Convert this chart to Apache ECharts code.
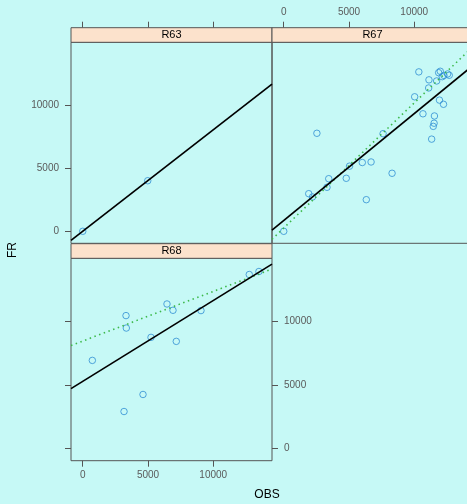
<!DOCTYPE html>
<html>
<head>
<meta charset="utf-8">
<script src="https://cdn.jsdelivr.net/npm/echarts@6/dist/echarts.min.js"></script>
<style>
html,body{margin:0;padding:0;background:#C6F9F6;}
#chart{width:467px;height:504px;}
</style>
</head>
<body>
<div id="chart"></div>
<script>
// ---- data ----
const panels = ['R63', 'R67', 'R68'];
const tickValues = [0, 5000, 10000];
const xRange = [-900, 14500];
const yRange = [-950, 14950];

const r63X = [0, 4980];
const r63Y = [0, 4000];

const r67X = [0, 1914, 2200, 2540, 3446, 3315, 4790, 5040, 6018, 6690, 6325, 7610, 8300,
  10031, 10350, 10666, 11103, 11126, 11332, 11455, 11520, 11545, 11715, 11868, 11991,
  11930, 12240, 12144, 12274, 12557, 12680];
const r67Y = [0, 2975, 2714, 7753, 4161, 3481, 4193, 5150, 5440, 5483, 2500, 7722, 4589,
  10640, 12610, 9295, 11337, 11980, 7290, 8300, 8550, 9122, 11891, 12548, 12658,
  10376, 10047, 12231, 12330, 12445, 12342];

const r68X = [735, 3315, 3338, 5230, 6455, 6914, 7167, 9058, 12757, 13499, 4617, 3162];
const r68Y = [6929, 10449, 9472, 8740, 11362, 10866, 8425, 10843, 13677, 13913, 4252, 2913];

// dotted (robust-looking) fit lines: [intercept, slope]
const r67Dotted = [260, 0.99];
const r68Dotted = [8450, 0.39];

// ---- helpers ----
function lm(xs, ys) {
  const n = xs.length;
  const mx = xs.reduce((a, b) => a + b, 0) / n;
  const my = ys.reduce((a, b) => a + b, 0) / n;
  let sxy = 0, sxx = 0;
  for (let i = 0; i < n; i++) { sxy += (xs[i] - mx) * (ys[i] - my); sxx += (xs[i] - mx) ** 2; }
  const b = sxy / sxx;
  return [my - b * mx, b];
}
function lineData(coef) {
  return [[xRange[0], coef[0] + coef[1] * xRange[0]], [xRange[1], coef[0] + coef[1] * xRange[1]]];
}
function pts(xs, ys) { return xs.map((x, i) => [x, ys[i]]); }

const axisCol = '#555555';
const labCol = '#5a5a5a';
const font = 'Liberation Sans, Arial, sans-serif';

const grids = [
  {left: 71, top: 42.3, width: 201, height: 201},
  {left: 272, top: 42.3, width: 201, height: 201},
  {left: 71, top: 258.3, width: 201, height: 202.4}
].map(g => Object.assign(g, {show: true, borderColor: axisCol, borderWidth: 1, backgroundColor: 'transparent', containLabel: false, outerBoundsMode: 'none'}));

function baseAxis(extra) {
  return Object.assign({
    type: 'value',
    splitLine: {show: false},
    axisLine: {show: false, onZero: false},
    axisTick: {show: true, inside: false, length: 6, lineStyle: {color: axisCol}, customValues: tickValues},
    axisLabel: {show: true, color: labCol, fontSize: 10, fontFamily: font, customValues: tickValues, margin: 12, formatter: v => String(v)}
  }, extra);
}

const xAxes = [
  baseAxis({gridIndex: 0, position: 'top', offset: 14.6, min: xRange[0], max: xRange[1]}),
  baseAxis({gridIndex: 1, position: 'top', offset: 14.6, min: xRange[0], max: xRange[1]}),
  baseAxis({gridIndex: 2, position: 'bottom', min: xRange[0], max: xRange[1]})
];
xAxes[0].axisLabel.show = false;
xAxes[1].axisLabel.margin = 10;
xAxes[2].axisLabel.margin = 10;

const yAxes = [
  baseAxis({gridIndex: 0, position: 'left', min: yRange[0], max: yRange[1]}),
  baseAxis({gridIndex: 1, position: 'left', min: yRange[0], max: yRange[1]}),
  baseAxis({gridIndex: 2, position: 'left', min: yRange[0], max: yRange[1]}),
  baseAxis({gridIndex: 2, position: 'right', min: yRange[0], max: yRange[1]})
];
yAxes[1].axisTick.show = false;
yAxes[1].axisLabel.show = false;
yAxes[2].axisLabel.show = false;

const symStyle = {color: 'transparent', borderColor: '#2f8fd3', borderWidth: 1};
function scatter(xi, yi, xs, ys) {
  return {type: 'scatter', xAxisIndex: xi, yAxisIndex: yi, data: pts(xs, ys), symbol: 'circle', symbolSize: 6.5, itemStyle: symStyle, silent: true};
}
function fitLine(xi, yi, coef, dotted) {
  return {type: 'line', xAxisIndex: xi, yAxisIndex: yi, data: lineData(coef), showSymbol: false, silent: true, clip: true,
    lineStyle: dotted ? {color: '#3cb94a', width: 1.6, type: [1.5, 3.5]} : {color: '#000000', width: 1.7}};
}

const series = [
  scatter(0, 0, r63X, r63Y),
  fitLine(0, 0, lm(r63X, r63Y), false),
  fitLine(1, 1, r67Dotted, true),
  scatter(1, 1, r67X, r67Y),
  fitLine(1, 1, lm(r67X, r67Y), false),
  fitLine(2, 2, r68Dotted, true),
  scatter(2, 2, r68X, r68Y),
  fitLine(2, 2, lm(r68X, r68Y), false)
];

const stripFill = '#FCE2CC';
function strip(g, name) {
  return [
    {type: 'rect', shape: {x: g.left, y: g.top - 14.6, width: g.width, height: 14.6}, style: {fill: stripFill, stroke: axisCol, lineWidth: 1}, z: 10},
    {type: 'text', x: g.left + g.width / 2, y: g.top - 7.3, style: {text: name, fill: '#000', font: '11px ' + font, textAlign: 'center', textVerticalAlign: 'middle'}, z: 11}
  ];
}
const graphics = [].concat(
  strip(grids[0], panels[0]),
  strip(grids[1], panels[1]),
  strip(grids[2], panels[2]),
  [{type: 'text', x: 267, y: 495, style: {text: 'OBS', fill: '#000', font: '12px ' + font, textAlign: 'center', textVerticalAlign: 'middle'}},
   {type: 'text', x: 13, y: 250, rotation: Math.PI / 2, style: {text: 'FR', fill: '#000', font: '12px ' + font, textAlign: 'center', textVerticalAlign: 'middle'}}]
);

const chart = echarts.init(document.getElementById('chart'), null, {renderer: 'canvas'});
chart.setOption({
  animation: false,
  backgroundColor: '#C6F9F6',
  grid: grids,
  xAxis: xAxes,
  yAxis: yAxes,
  series: series,
  graphic: graphics
});
</script>
</body>
</html>
